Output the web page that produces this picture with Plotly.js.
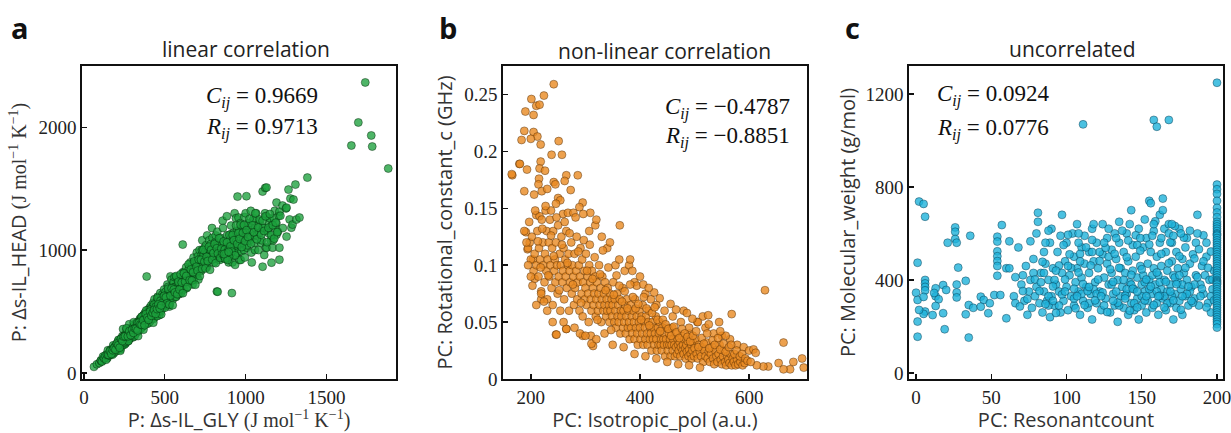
<!DOCTYPE html>
<html>
<head>
<meta charset="utf-8">
<script src="https://cdn.plot.ly/plotly-3.0.1.min.js"></script>
<style>html,body{margin:0;padding:0;background:#fff}#chart{width:1231px;height:433px}</style>
</head>
<body>
<div id="chart"></div>
<script>
// Panel a: P: Δs-IL_GLY (x) vs P: Δs-IL_HEAD (y)
const linearPoints = [
[62,49],[80,70],[95,80],[105,100],[110,95],[120,110],[125,125],[135,130],[140,150],[145,120],[150,140],[155,160],[160,170],[165,150],[170,190],[172,165],[175,175],[180,200],[182,185],[185,160],[190,210],[192,195],[195,185],[198,230],[200,220],[200,180],[203,205],[205,240],[208,215],[210,200],[212,260],[215,230],[218,245],[220,250],[220,210],[222,195],[225,190],[226,270],[228,225],[230,260],[230,235],[232,280],[235,220],[236,250],[238,300],[240,270],[240,245],[242,230],[245,290],[246,265],[248,250],[250,260],[250,230],[252,310],[255,280],[256,295],[258,240],[260,300],[260,250],[262,275],[265,275],[266,320],[268,290],[270,310],[270,290],[272,265],[275,260],[276,340],[278,300],[280,330],[280,300],[282,280],[285,280],[286,350],[288,315],[290,320],[290,350],[292,290],[295,300],[296,370],[298,330],[300,340],[300,310],[300,370],[302,325],[305,290],[306,355],[308,390],[310,330],[310,360],[312,310],[315,345],[316,375],[318,400],[320,380],[320,320],[322,350],[325,350],[326,410],[328,370],[330,400],[330,360],[332,335],[335,340],[336,385],[338,420],[340,380],[340,410],[342,355],[345,360],[346,440],[348,395],[350,390],[350,430],[352,410],[355,370],[356,455],[358,390],[360,400],[360,450],[362,425],[365,420],[366,380],[368,470],[370,390],[370,470],[372,440],[375,430],[376,405],[378,490],[380,410],[380,450],[382,470],[385,480],[386,430],[388,785],[390,430],[390,400],[392,510],[395,460],[396,440],[398,480],[400,440],[400,500],[402,465],[405,470],[406,530],[408,450],[410,420],[410,520],[412,490],[415,480],[416,550],[418,460],[420,450],[420,500],[422,520],[425,540],[426,480],[428,570],[430,470],[430,510],[432,440],[435,490],[436,600],[438,530],[440,460],[440,550],[442,505],[445,520],[446,480],[448,560],[450,480],[450,580],[452,540],[455,530],[456,620],[458,500],[460,500],[460,560],[462,590],[465,610],[466,470],[468,540],[470,540],[472,650],[475,500],[476,570],[478,600],[480,580],[482,520],[485,560],[486,640],[488,600],[490,620],[492,550],[495,540],[496,680],[498,590],[500,600],[502,630],[505,660],[508,560],[510,570],[512,610],[515,630],[516,720],[518,590],[520,700],[522,650],[525,600],[528,540],[530,560],[532,680],[535,650],[535,786],[538,610],[540,620],[542,760],[545,690],[548,640],[550,600],[552,720],[555,740],[558,670],[560,650],[560,780],[562,700],[565,700],[568,620],[570,620],[572,780],[575,660],[580,680],[582,720],[585,760],[588,640],[590,720],[595,690],[600,650],[600,780],[605,730],[610,700],[611,1045],[612,820],[615,740],[618,680],[620,820],[625,770],[630,760],[632,860],[635,690],[640,800],[645,740],[650,850],[652,780],[655,740],[658,900],[660,780],[665,820],[670,880],[672,720],[675,820],[678,940],[680,760],[685,860],[690,900],[692,800],[695,840],[698,980],[700,800],[702,900],[705,950],[708,760],[710,870],[715,1000],[720,920],[722,850],[725,830],[728,960],[730,1000],[732,1080],[735,880],[738,940],[740,960],[745,1020],[750,900],[752,990],[755,1040],[758,870],[760,860],[762,1120],[765,980],[768,930],[770,920],[772,1010],[775,1080],[778,960],[780,1000],[785,1050],[790,950],[792,1180],[795,1100],[798,1000],[800,1020],[802,930],[805,900],[808,980],[810,1060],[815,1120],[820,980],[822,663],[822,1040],[825,1150],[827,661],[828,940],[830,1040],[835,1000],[840,920],[842,1060],[845,1100],[848,970],[850,1000],[852,940],[855,960],[858,1240],[860,1180],[862,1000],[865,1060],[868,960],[870,950],[872,930],[875,1020],[877,990],[880,940],[880,960],[882,970],[884,1276],[885,1120],[886,950],[888,930],[890,1000],[892,980],[895,900],[898,1050],[900,1080],[902,950],[905,980],[908,1130],[910,1200],[912,1010],[915,1040],[915,650],[918,900],[920,950],[922,1090],[925,1140],[928,1020],[930,1000],[932,1300],[935,880],[938,1060],[940,1260],[942,960],[945,1080],[948,1160],[950,980],[950,1436],[955,1030],[956,1265],[960,1160],[962,920],[965,1040],[968,1220],[970,920],[972,1100],[975,990],[980,1200],[982,1060],[985,1100],[990,1000],[992,1270],[995,940],[1000,1300],[1002,1150],[1005,1140],[1005,1439],[1008,1020],[1010,1040],[1015,1200],[1020,1220],[1025,1080],[1030,1100],[1032,1320],[1035,980],[1038,900],[1040,1160],[1045,1240],[1050,1260],[1052,1120],[1055,1060],[1058,1000],[1060,1180],[1065,1300],[1070,1120],[1075,1200],[1080,1000],[1085,1140],[1090,1240],[1095,1060],[1100,1080],[1105,865],[1105,1477],[1108,1180],[1110,1180],[1115,960],[1120,1300],[1121,1507],[1125,1020],[1129,1510],[1129,1273],[1130,1020],[1135,1160],[1140,1140],[1145,1220],[1150,1260],[1155,1080],[1160,898],[1160,1200],[1167,1020],[1170,1080],[1175,1260],[1180,1320],[1185,1180],[1190,1220],[1191,1126],[1191,1387],[1200,1150],[1205,1280],[1209,922],[1209,1020],[1209,1314],[1215,1280],[1228,1363],[1230,1180],[1250,1340],[1253,1110],[1253,1346],[1265,1493],[1272,1250],[1277,1420],[1283,1183],[1290,1208],[1296,1412],[1308,1534],[1314,1249],[1333,1265],[1382,1591],[1654,1852],[1697,2040],[1740,2366],[1777,1934],[1783,1844],[1882,1665],
[105,101],[112,92],[118,133],[125,119],[131,141],[137,107],[142,148],[148,184],[153,144],[159,144],[164,188],[170,175],[176,148],[181,224],[187,188],[192,216],[198,176],[203,223],[209,207],[214,269],[220,242],[225,180],[231,280],[236,257],[242,357],[247,250],[253,306],[258,303],[264,352],[269,293],[275,260],[280,396],[286,348],[291,310],[297,351],[302,321],[308,413],[313,298],[319,367],[324,336],[330,407],[335,300],[341,383],[346,416],[352,358],[357,457],[363,412],[368,352],[374,440],[379,406],[385,509],[390,433],[396,483],[401,405],[407,468],[412,516],[418,439],[423,471],[429,409],[434,556],[440,492],[445,540],[451,462],[456,610],[462,531],[467,508],[473,587],[478,478],[484,571],[489,548],[495,627],[500,531],[507,616],[514,566],[521,685],[528,556],[535,629],[542,689],[549,551],[556,679],[563,655],[570,789],[577,641],[584,742],[591,679],[598,803],[605,736],[612,649],[619,811],[626,742],[633,789],[640,700],[647,884],[654,755],[661,842],[668,753],[675,820],[682,908],[689,718],[696,865],[703,833],[710,923],[717,789],[724,921],[731,847],[738,1002],[745,906],[752,851],[759,945],[766,911],[773,1028],[780,840],[787,1003],[794,923],[801,976],[808,1049],[815,894],[822,1015],[829,973],[836,1096],[843,936],[850,1012],[857,970],[864,1071],[871,1004],[878,936],[885,1063],[892,994],[899,1124],[906,1031],[913,988],[920,1123],[927,1080],[934,957],[941,1200],[948,1050],[955,1137],[962,1092],[969,1207],[976,1025],[983,1141],[990,1204],[997,1073],[1006,1162],[1015,1107],[1024,1254],[1033,1053],[1042,1202],[1051,1145],[1060,1300],[1069,1088],[1078,1184],[1087,1249],[1096,1125],[1105,1240],[1114,1156],[1123,1276],[1132,1065],[1141,1182],[1150,1294],[1159,1122],[1168,1203],[1177,1094],[1186,1224],[1195,1146],
[150,147],[161,178],[169,154],[178,185],[186,201],[195,189],[204,239],[212,225],[221,205],[229,277],[238,259],[246,295],[255,298],[263,363],[272,298],[281,340],[289,307],[298,351],[306,326],[315,362],[323,360],[332,346],[340,408],[349,394],[357,391],[366,429],[375,388],[383,479],[392,450],[400,432],[409,499],[417,465],[426,490],[434,513],[443,481],[452,520],[460,558],[469,525],[478,550],
[870,945],[876,958],[884,936],[891,962],[897,948],[882,975],[874,930],[889,920],[866,968],[895,985]
];

// Panel b: PC: Isotropic_pol (x) vs PC: Rotational_constant_c (y)
const nonlinearPoints = [
[242,.259],[224,.249],[201,.246],[210,.240],[216,.241],[190,.235],[205,.232],[188,.218],[205,.217],[212,.213],[183,.210],[200,.211],[251,.209],[218,.206],[238,.197],[257,.197],[179,.189],[166,.179],[193,.184],[218,.191],[216,.185],[226,.183],[265,.179],[286,.179],[215,.176],[242,.173],[245,.171],[262,.174],[214,.171],[188,.165],[220,.165],[230,.167],[273,.166],[206,.162],[250,.159],[254,.157],[246,.154],[295,.155],[289,.151],[227,.148],[237,.148],[210,.144],[259,.145],[268,.146],[278,.146],[309,.146],[216,.143],[165,.180],[180,.189],
[191,.129],[194,.114],[204,.105],[207,.088],[219,.077],[219,.070],[246,.039],[265,.044],[295,.038],[314,.029],[310,.038],
[195,.115],[198,.12],[200,.105],[202,.125],[205,.095],[207,.11],[210,.1],[212,.13],[214,.09],[215,.115],[217,.105],[219,.075],[220,.14],[222,.12],[223,.1],[225,.085],[226,.11],[228,.095],[229,.13],[230,.07],[231,.105],[233,.12],[234,.09],[235,.14],[236,.1],[238,.08],[239,.115],[240,.065],[241,.13],[243,.095],[244,.105],[245,.085],[246,.12],[248,.1],[249,.075],[250,.135],[251,.09],[253,.11],[254,.06],[255,.1],[256,.125],[258,.085],[259,.095],[260,.115],[261,.07],[263,.105],[264,.09],[265,.13],[266,.08],[268,.1],[269,.11],[270,.06],[271,.095],[272,.085],[274,.12],[275,.075],[276,.1],[278,.09],[279,.065],[280,.11],[281,.08],[283,.095],[284,.125],[285,.07],[286,.085],[288,.1],[289,.06],[290,.09],[291,.115],[293,.075],[294,.105],[295,.055],[296,.085],[298,.095],[299,.07],[300,.08],[301,.11],[302,.065],[304,.09],[305,.075],[306,.05],[307,.1],[309,.085],[310,.07],[311,.06],[312,.095],[314,.08],[315,.065],[316,.075],[318,.09],[319,.055],[320,.07],[321,.085],[323,.06],[324,.075],[325,.1],[326,.065],[328,.08],[329,.05],[330,.07],[331,.09],[333,.06],[334,.075],[335,.065],[336,.085],[338,.055],[339,.07],[340,.06],[341,.08],[343,.065],[344,.05],[345,.075],[346,.06],[348,.07],[349,.055],[350,.065],[351,.085],[353,.05],[354,.07],[355,.06],[356,.045],[358,.075],[359,.055],[360,.065],[361,.05],[363,.07],[364,.04],[365,.06],[366,.055],[368,.08],[369,.045],[370,.06],[371,.05],[373,.065],[374,.04],[375,.055],[376,.07],[378,.045],[379,.06],[380,.05],[381,.035],[383,.065],[384,.045],[385,.055],[386,.04],[388,.06],[389,.05],[390,.035],[391,.07],[393,.045],[394,.055],[395,.04],[396,.03],[398,.05],[399,.06],[400,.045],[401,.035],[403,.055],[404,.04],[405,.065],[406,.03],[408,.05],[409,.045],[410,.035],[411,.055],[413,.04],[414,.03],[415,.05],[416,.06],[418,.035],[419,.045],[420,.04],[421,.025],[423,.05],[424,.035],[425,.045],[426,.03],[428,.04],[429,.055],[430,.035],[431,.025],[433,.045],[434,.03],[435,.04],[436,.05],[438,.03],[439,.035],[440,.025],[441,.045],[443,.035],[444,.03],[445,.04],[446,.02],[448,.035],[449,.045],[450,.03],[451,.025],[453,.04],[454,.03],[455,.035],[456,.02],[458,.03],[459,.045],[460,.025],[461,.035],[463,.03],[464,.02],[465,.04],[466,.028],[468,.022],[469,.035],[470,.03],[471,.025],[473,.032],[474,.02],[475,.028],[476,.038],[478,.025],[479,.03],[480,.022],[481,.035],[483,.027],[484,.018],[485,.03],[486,.024],[488,.033],[489,.02],[490,.026],[491,.04],[493,.022],[494,.03],[495,.018],[496,.025],[498,.032],[499,.02],[500,.027],[502,.035],[504,.022],[506,.018],[508,.03],[510,.024],[512,.02],[514,.028],[516,.015],[518,.025],[520,.02],[522,.032],[524,.018],[526,.024],[528,.015],[530,.022],[532,.028],[534,.018],[536,.013],[538,.025],[540,.02],[542,.015],[544,.022],[546,.03],[548,.017],[550,.013],[552,.02],[554,.025],[556,.015],[558,.012],[560,.02],[562,.017],[564,.014],[566,.022],[568,.012],[570,.018],[572,.015],[575,.012],[578,.017],[580,.013],[584,.015],[588,.012],[592,.014],
[330,.125],[318,.135],[307,.13],[296,.145],[320,.14],[340,.115],[355,.1],[372,.095],[380,.1],[345,.12],[362,.105],[390,.085],[410,.075],[420,.07],[430,.065],[445,.06],[460,.055],[475,.05],[490,.045],[505,.05],[520,.045],[535,.04],[550,.038],[565,.035],[578,.03],[590,.028],[600,.025],[545,.05],[515,.055],[480,.06],
[363,.135],[382,.105],[394,.082],[406,.083],[629,.078],[525,.056],[568,.057],[663,.032],[697,.018],[700,.010],[681,.015],[675,.0085],[654,.014],[663,.0085],[635,.011],[626,.011],[614,.012],[608,.026],[612,.023],[247,.039],[265,.044],[311,.031],
[280,.045],[290,.04],[300,.038],[320,.035],[335,.04],[350,.03],[370,.028],[390,.022],[410,.02],[430,.018],[450,.015],[470,.013],[490,.012],[510,.01],[230,.06],[240,.05],[260,.05],[210,.065],[200,.09],[195,.1],[188,.13],[192,.12],
[197,.138],[203,.082],[208,.148],[213,.121],[218,.098],[221,.132],[224,.068],[227,.152],[232,.091],[237,.126],[242,.108],[247,.142],[252,.078],[257,.118],[262,.138],[267,.102],[271,.128],[277,.083],[282,.142],[287,.112],[292,.067],[297,.122],[303,.095],[308,.118],[313,.088],[317,.107],[322,.052],[327,.092],[332,.113],[337,.078],[342,.098],[347,.043],[352,.074],[357,.091],[362,.082],[367,.068],[372,.077],[377,.062],[382,.083],[387,.072],[392,.062],[397,.066],[402,.052],[407,.072],[412,.062],[417,.047],[422,.058],[427,.063],[432,.052],[437,.042],[442,.052],[447,.048],[452,.044],[457,.038],[462,.046],[467,.041],[472,.036],[477,.044],[482,.04],[487,.037],[492,.033],[497,.038],[503,.042],[507,.028],[513,.036],[517,.031],[523,.04],[527,.027],[533,.034],[537,.03],[543,.036],[547,.026],[553,.031],[557,.024],[563,.028],[567,.03],[573,.022],[577,.025],[583,.02],[587,.022],[593,.018],[597,.016],[603,.015],[557,.038],[547,.042],[526,.048],[506,.05],[496,.053],[486,.058],[466,.061],[456,.066],[436,.071],[426,.076],[416,.08],[400,.09],[386,.095]
];

// Panel c: PC: Resonantcount (x) vs PC: Molecular_weight (y)
const uncorrelatedPoints = [
[2,737],[5,727],[6,672],[1,474],[0,345],[1,314],[1,221],[1,156],[6,400],[6,385],[6,370],[6,355],[5,327],[6,264],[5,254],[2,271],[11,249],[13,364],[13,330],[15,317],[13,288],[12,344],[18,378],[18,257],[19,188],[20,357],[21,560],[26,626],[26,607],[26,576],[27,560],[28,453],[27,380],[27,346],[27,325],[33,396],[33,252],[35,152],[36,590],[35,292],[38,280],[43,328],[45,314],[48,257],[43,285],[49,300],[52,335],[54,586],[54,565],[54,523],[54,502],[54,481],[54,460],[54,418],[57,636],[60,235],[60,450],[62,450],[62,566],[56,335],
[65,330],[66,300],[68,540],[70,380],[71,420],[72,310],[73,460],[74,250],[75,350],[76,400],[77,280],[78,490],[79,330],[80,600],[80,370],[81,689],[81,650],[82,300],[83,430],[84,260],[85,520],[85,350],[86,470],[87,310],[88,400],[89,560],[89,240],[90,330],[90,620],[91,450],[92,290],[93,380],[94,520],[95,350],[96,260],[97,680],[97,430],[98,310],[99,480],[100,370],[100,560],[101,270],[102,420],[103,330],[104,600],[105,500],[105,290],[106,390],[107,640],[107,450],[108,350],[109,250],[110,540],[110,410],[111,310],[112,590],[112,470],[113,370],[114,280],[115,520],[115,430],[116,340],[117,620],[117,230],[118,480],[119,390],[120,300],[120,560],[121,450],[122,350],[123,270],[124,510],[124,640],[125,410],[126,320],[127,580],[127,470],[128,380],[129,260],[130,530],[130,430],[131,340],[132,600],[132,290],[133,490],[134,400],[134,220],[135,650],[135,560],[136,450],[136,330],[137,370],[138,280],[138,520],[139,430],[140,600],[140,340],[141,480],[141,250],[142,390],[143,700],[143,300],[144,550],[144,440],[145,360],[145,270],[146,500],[147,410],[147,320],[148,620],[148,230],[149,460],[150,380],[150,290],[151,540],[151,420],[152,350],[153,260],[153,580],[154,470],[154,310],[155,400],[155,740],[156,730],[156,520],[157,340],[157,280],[158,610],[158,450],[159,380],[160,500],[160,300],[161,420],[161,250],[162,680],[162,560],[163,360],[163,460],[164,750],[164,320],[165,620],[165,400],[166,520],[166,270],[167,440],[167,350],[168,600],[168,640],[169,380],[169,300],[170,480],[170,560],[171,420],[171,230],[172,340],[173,520],[173,280],[174,450],[174,390],[175,620],[175,310],[176,360],[177,490],[177,250],[178,430],[179,330],[180,580],[180,400],[181,290],[182,470],[183,370],[184,510],[185,320],[186,420],[187,680],[188,290],[189,380],[190,460],[191,340],[192,420],[193,500],[194,300],[195,400],[196,260],[197,360],[198,440],
[102,510],[108,560],[113,540],[118,360],[122,520],[128,500],[133,350],[138,400],[143,380],[147,550],[152,390],[157,420],[162,390],[167,300],[172,410],[177,380],[182,350],[186,560],[191,480],[196,330],[110,340],[120,340],[130,380],[140,360],[150,330],[160,350],[170,330],[180,340],[125,290],[145,300],[165,330],[185,380],[135,290],[155,360],[175,420],[95,290],[105,320],[115,300],[88,330],[78,430],[92,400],[98,550],[88,290],
[66,412],[69,286],[71,352],[74,318],[76,566],[79,402],[82,352],[84,478],[86,296],[88,612],[91,372],[93,258],[95,462],[97,338],[99,402],[101,594],[103,452],[105,362],[106,278],[108,432],[109,512],[111,382],[112,292],[114,352],[116,462],[117,572],[119,312],[121,402],[122,482],[124,346],[126,538],[127,262],[129,446],[131,392],[132,512],[134,302],[135,452],[137,612],[139,332],[140,498],[142,268],[143,422],[144,362],[146,592],[147,282],[149,526],[150,446],[152,312],[153,402],[155,552],[156,372],[158,292],[159,652],[160,432],[162,332],[163,512],[165,282],[166,392],[168,472],[169,562],[171,312],[172,632],[173,382],[175,502],[176,272],[178,582],[179,452],[181,372],[182,612],[184,302],[185,492],[187,412],[188,532],[190,362],[191,592],[193,282],[194,452],[196,522],[197,402],[198,312],
[152,660],[158,640],[164,700],[170,640],[176,600],[142,640],[128,620],[118,640],[108,600],[96,590],[86,560],[147,350],[153,330],[161,330],[169,350],[177,330],[183,310],[189,330],[139,320],[131,310],[123,330],[115,370],[107,330],[99,350],[91,310],[83,390],[163,580],[171,590],[179,540],[187,600],[193,560],[157,590],[149,580],[141,570],[133,580],[125,560],[117,520],[109,480],[101,460],[93,440],[85,430],
[200,1248],[200,810],[200,790],[200,770],[200,740],[200,710],[200,690],[200,670],[200,650],[200,640],[200,630],[200,620],[200,610],[200,600],[200,595],[200,590],[200,580],[200,570],[200,560],[200,550],[200,540],[200,530],[200,520],[200,510],[200,500],[200,490],[200,480],[200,470],[200,460],[200,450],[200,440],[200,430],[200,420],[200,410],[200,400],[200,395],[200,390],[200,385],[200,380],[200,370],[200,360],[200,350],[200,340],[200,330],[200,320],[200,310],[200,300],[200,290],[200,280],[200,270],[200,260],[200,250],[200,240],[200,230],[200,220],[200,210],[200,195],
[111,1069],[158,1088],[160,1059],[168,1088]
];

const panelTitles = ['linear correlation', 'non-linear correlation', 'uncorrelated'];
const panelLetters = ['a', 'b', 'c'];
const cValues = ['0.9669', '\u22120.4787', '0.0924'];
const rValues = ['0.9713', '\u22120.8851', '0.0776'];
const xTitles = ['P: \u0394s-IL_GLY <span style="font-family:\'Liberation Serif\',serif">(J mol<sup>\u22121</sup> K<sup>\u22121</sup>)</span>',
                 'PC: Isotropic_pol (a.u.)', 'PC: Resonantcount'];
const yTitles = ['P: \u0394s-IL_HEAD <span style="font-family:\'Liberation Serif\',serif">(J mol<sup>\u22121</sup> K<sup>\u22121</sup>)</span>',
                 'PC: Rotational_constant_c (GHz)', 'PC: Molecular_weight (g/mol)'];
const xTicks = [[0, 500, 1000, 1500], [200, 400, 600], [0, 50, 100, 150, 200]];
const yTicks = [[0, 1000, 2000], [0, 0.05, 0.1, 0.15, 0.2, 0.25], [0, 400, 800, 1200]];
const yTickText = [['0','1000','2000'], ['0','0.05','0.1','0.15','0.2','0.25'], ['0','400','800','1200']];

const W = 1231, H = 433;
const px = v => v / W, py = v => 1 - v / H;

const fills = ['rgba(28,160,60,0.78)', 'rgba(232,138,34,0.8)', 'rgba(30,178,218,0.8)'];
const edges = ['rgba(0,30,5,0.55)', 'rgba(60,30,0,0.5)', 'rgba(0,40,60,0.5)'];
const sets = [linearPoints, nonlinearPoints, uncorrelatedPoints];

const traces = sets.map((pts, i) => ({
  type: 'scatter', mode: 'markers',
  x: pts.map(p => p[0]), y: pts.map(p => p[1]),
  xaxis: i === 0 ? 'x' : 'x' + (i + 1), yaxis: i === 0 ? 'y' : 'y' + (i + 1),
  marker: {size: 8, color: fills[i], line: {color: edges[i], width: 0.8}},
  showlegend: false, hoverinfo: 'x+y'
}));

const xDomains = [[px(82), px(396)], [px(503), px(807)], [px(909), px(1223)]];
const yDomain = [py(379), py(66)];
const xRanges = [[-12, 1930], [149, 706], [-4.7, 204]];
const yRanges = [[-50, 2500], [0, 0.275], [-26, 1320]];

const tickFont = {family: "'Liberation Serif', 'Times New Roman', serif", size: 19, color: '#222'};
const titleFont = {family: "'Open Sans', 'Noto Sans', sans-serif", size: 20, color: '#333'};

const layout = {
  width: W, height: H, margin: {l: 0, r: 0, t: 0, b: 0},
  paper_bgcolor: '#fff', plot_bgcolor: '#fff',
  annotations: [], showlegend: false
};

const xStandoff = [4, 8, 8];
const yStandoff = [6, 6, 4];
for (let i = 0; i < 3; i++) {
  const sx = i === 0 ? '' : String(i + 1);
  const axCommon = {showline: true, mirror: true, linecolor: '#111', linewidth: 1.8,
    ticks: 'inside', ticklen: 5, tickwidth: 1.4, tickcolor: '#111', ticklabeloverflow: 'allow',
    showgrid: false, zeroline: false, tickfont: tickFont, fixedrange: true};
  layout['xaxis' + sx] = Object.assign({}, axCommon, {
    domain: xDomains[i], range: xRanges[i], tickvals: xTicks[i],
    ticktext: xTicks[i].map(String),
    anchor: 'y' + sx,
    title: {text: xTitles[i], font: titleFont, standoff: xStandoff[i]}
  });
  layout['yaxis' + sx] = Object.assign({}, axCommon, {
    domain: yDomain, range: yRanges[i], tickvals: yTicks[i], ticktext: yTickText[i],
    anchor: 'x' + sx,
    title: {text: yTitles[i], font: titleFont, standoff: yStandoff[i]}
  });
}

const letterPos = [[20, 27], [448, 27], [852, 27]];
const titlePos = [[246, 49], [665, 51], [1072, 49]];
const statPos = [[204, 97, 128], [663, 108, 137], [935, 95, 129]];
const statFont = {family: "'Liberation Serif', 'Times New Roman', serif", size: 23, color: '#111'};
for (let i = 0; i < 3; i++) {
  layout.annotations.push({xref: 'paper', yref: 'paper', x: px(letterPos[i][0]), y: py(letterPos[i][1]),
    text: '<b>' + panelLetters[i] + '</b>', showarrow: false, xanchor: 'center', yanchor: 'middle',
    font: {family: "'Open Sans', 'Noto Sans', sans-serif", size: 29, color: '#111'}});
  layout.annotations.push({xref: 'paper', yref: 'paper', x: px(titlePos[i][0]), y: py(titlePos[i][1]),
    text: panelTitles[i], showarrow: false, xanchor: 'center', yanchor: 'middle',
    font: {family: "'Open Sans', 'Noto Sans', sans-serif", size: 21, color: '#222'}});
  layout.annotations.push({xref: 'paper', yref: 'paper', x: px(statPos[i][0]), y: py(statPos[i][1]),
    text: '<i>C</i><sub><i>ij</i></sub> = ' + cValues[i], showarrow: false, xanchor: 'left', yanchor: 'middle',
    font: statFont});
  layout.annotations.push({xref: 'paper', yref: 'paper', x: px(statPos[i][0]), y: py(statPos[i][2]),
    text: '<i>R</i><sub><i>ij</i></sub> = ' + rValues[i], showarrow: false, xanchor: 'left', yanchor: 'middle',
    font: statFont});
}

Plotly.newPlot('chart', traces, layout, {staticPlot: true, displayModeBar: false});
</script>
</body>
</html>
